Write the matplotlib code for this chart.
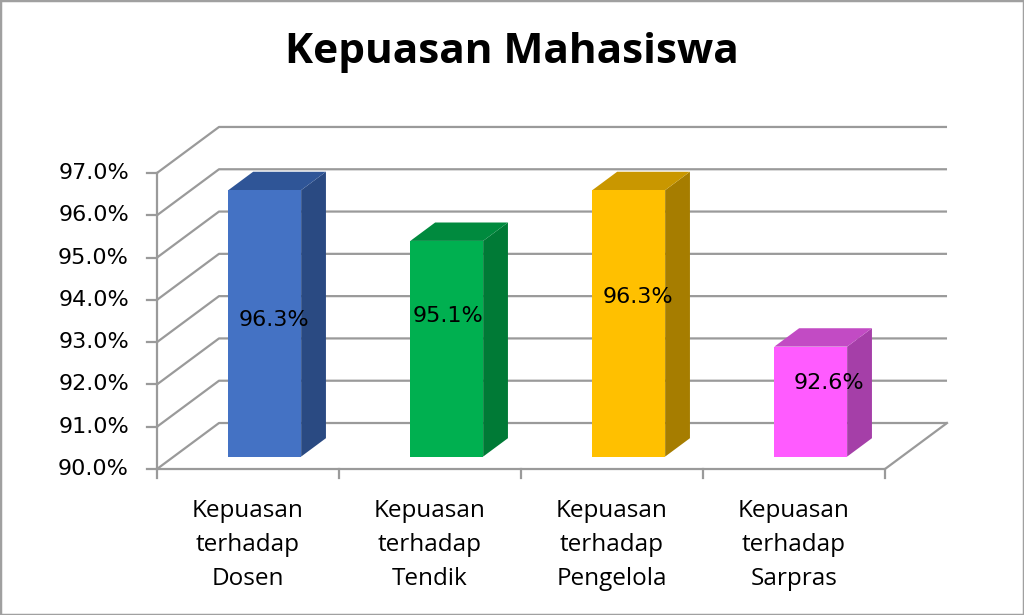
import matplotlib
matplotlib.use("Agg")
import matplotlib.pyplot as plt
from matplotlib.patches import Polygon, Rectangle

# ---- data ----
title = "Kepuasan Mahasiswa"
categories = ["Kepuasan\nterhadap\nDosen", "Kepuasan\nterhadap\nTendik",
              "Kepuasan\nterhadap\nPengelola", "Kepuasan\nterhadap\nSarpras"]
values = [96.3, 95.1, 96.3, 92.6]
value_labels = ["96.3%", "95.1%", "96.3%", "92.6%"]
y_ticks = [90, 91, 92, 93, 94, 95, 96, 97]
y_tick_labels = ["90.0%", "91.0%", "92.0%", "93.0%", "94.0%", "95.0%", "96.0%", "97.0%"]

# ---- styles ----
front_colors = ["#4472C4", "#00B050", "#FFC000", "#FF5BFF"]
top_colors = ["#2F5597", "#008A3E", "#C99700", "#C24BC4"]
side_colors = ["#2A4A82", "#007A36", "#A67D00", "#A53FA8"]
grid_color = "#9A9A9A"

# ---- layout ----
DX, DY = 0.3407, 1.0877          # oblique depth vector (per unit depth)
BAR_FRONT, BAR_BACK = 0.27, 0.67  # bar depth range
BAR_W = 0.40
label_dx = [0.14, 0.10, 0.14, 0.19]
label_y = [93.52, 93.62, 94.07, 92.03]
base = y_ticks[0]
top = y_ticks[-1]
ncat = len(categories)


def proj(x, v, d):
    return (x + d * DX, v + d * DY)


fig = plt.figure(figsize=(10.24, 6.15), dpi=100)
ax = fig.add_axes([0, 0, 1, 1])
ax.set_xlim(-0.8626, 4.7637)
ax.set_ylim(86.548, 101.090)
ax.axis("off")

# walls / gridlines
for v in y_ticks:
    p0 = proj(0, v, 0); p1 = proj(0, v, 1); p2 = proj(ncat, v, 1)
    ax.plot([p0[0], p1[0], p2[0]], [p0[1], p1[1], p2[1]], color=grid_color,
            lw=1.6, zorder=1, solid_capstyle="butt")
    ax.plot([-0.055, 0], [v, v], color=grid_color, lw=1.6, zorder=1)
    ax.text(-0.154, v, y_tick_labels[y_ticks.index(v)], ha="right", va="center",
            fontsize=16, family="DejaVu Sans", color="black")
ax.plot([0, 0], [base, top], color=grid_color, lw=1.6, zorder=1)
f1 = proj(ncat, base, 0); f2 = proj(ncat, base, 1)
ax.plot([0, f1[0], f2[0]], [base, f1[1], f2[1]], color=grid_color, lw=1.6, zorder=1)
for i in range(ncat + 1):
    ax.plot([i, i], [base, base - 0.22], color=grid_color, lw=1.6, zorder=1)

# bars
for i, v in enumerate(values):
    x0 = i + 0.5 - BAR_W / 2
    x1 = x0 + BAR_W
    front = [proj(x0, base, BAR_FRONT), proj(x1, base, BAR_FRONT),
             proj(x1, v, BAR_FRONT), proj(x0, v, BAR_FRONT)]
    topf = [proj(x0, v, BAR_FRONT), proj(x1, v, BAR_FRONT),
            proj(x1, v, BAR_BACK), proj(x0, v, BAR_BACK)]
    side = [proj(x1, base, BAR_FRONT), proj(x1, base, BAR_BACK),
            proj(x1, v, BAR_BACK), proj(x1, v, BAR_FRONT)]
    ax.add_patch(Polygon(side, closed=True, facecolor=side_colors[i], edgecolor="none", zorder=2))
    ax.add_patch(Polygon(topf, closed=True, facecolor=top_colors[i], edgecolor="none", zorder=2))
    ax.add_patch(Polygon(front, closed=True, facecolor=front_colors[i], edgecolor="none", zorder=2))
    ax.text(i + 0.5 + label_dx[i], label_y[i], value_labels[i], ha="center", va="center",
            fontsize=16, family="DejaVu Sans", color="black", zorder=3)

# category labels
for i, c in enumerate(categories):
    ax.text(i + 0.5, 89.29, c, ha="center", va="top", fontsize=17.5,
            family="Open Sans", linespacing=1.55, color="black")

fig.text(0.4995, 1 - 63 / 615, title, ha="center", va="baseline", fontsize=30.5,
         fontweight="bold", family="Open Sans", color="black")

fig.patches.append(Rectangle((0, 0), 1, 1, transform=fig.transFigure, fill=False,
                             edgecolor="#A0A0A0", lw=2.5))

fig.savefig("out.png", dpi=100)
